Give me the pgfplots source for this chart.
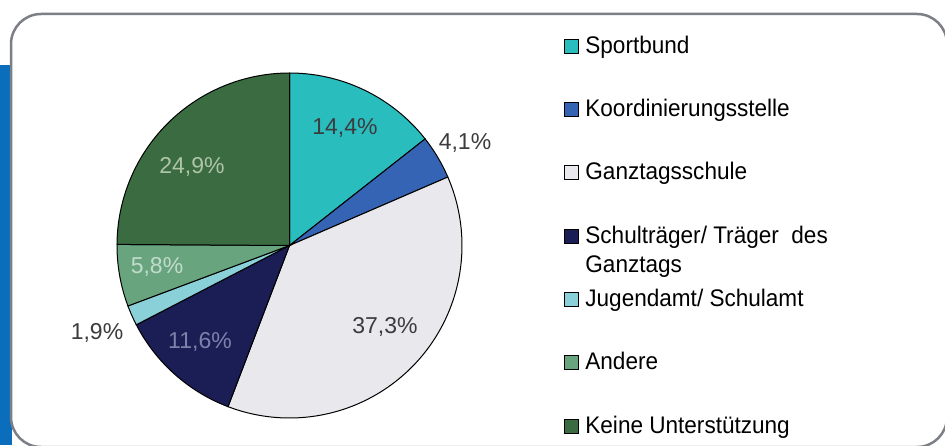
\documentclass[border=0pt]{standalone}
\usepackage{fontspec}
\setmainfont{Liberation Sans}[FakeStretch=0.94]
\newfontfamily\labfont{Liberation Sans}
\usepackage{pgfplots}
\usepackage{pgfplotstable}
\pgfplotsset{compat=1.18}

\definecolor{piecol0}{HTML}{2ABDBE}
\definecolor{piecol1}{HTML}{3564B4}
\definecolor{piecol2}{HTML}{E9E9ED}
\definecolor{piecol3}{HTML}{1B1D55}
\definecolor{piecol4}{HTML}{8AD0D8}
\definecolor{piecol5}{HTML}{68A47E}
\definecolor{piecol6}{HTML}{3A6B41}
\definecolor{framegray}{HTML}{7C7F86}
\definecolor{barblue}{HTML}{0A6EBD}
\definecolor{labdark}{HTML}{3C3C3E}
\definecolor{labgreen}{HTML}{AFC4A8}
\definecolor{labpale}{HTML}{C2DCCB}
\definecolor{labnavy}{HTML}{7C82AA}

\pgfplotstableread{
value
14.4
4.1
37.3
11.6
1.9
5.8
24.9
}\piedata

\begin{document}
\begin{tikzpicture}[x=1pt,y=1pt]
\useasboundingbox (0,0) rectangle (945,445);
\begin{scope}
\clip (0,0) rectangle (945,445);
\fill[white] (0,0) rectangle (945,445);
\fill[barblue] (0,0) rectangle (12,380);
\draw[framegray, line width=2.5pt, fill=white, rounded corners=30pt] (11,-2) rectangle (947,431);
\end{scope}
\begin{axis}[
  x=1pt, y=1pt, xmin=0, xmax=945, ymin=0, ymax=445,
  hide axis, scale only axis, anchor=south west, at={(0,0)}, clip=false,
  legend cell align=left,
  legend style={draw=none, fill=none, at={(axis cs:563.5,409.7)}, anchor=north west,
    inner sep=0pt, outer sep=0pt, row sep=40.3pt, column sep=7pt,
    font=\fontsize{24}{29}\selectfont,
    nodes={inner sep=0pt, text height=18pt, text depth=5pt}},
  legend image code/.code={\draw[#1, line width=0.9pt] (0pt,-6.5pt) rectangle (14pt,7.5pt);},
]
\pgfmathsetmacro\cum{0}
\pgfplotsforeachungrouped \i in {0,...,6}{%
  \pgfplotstablegetelem{\i}{value}\of\piedata
  \pgfmathsetmacro\a{90-3.6*\cum}%
  \pgfmathsetmacro\cum{\cum+\pgfplotsretval}%
  \pgfmathsetmacro\b{90-3.6*\cum}%
  \edef\temp{\noexpand\addplot[draw=black, line width=1pt, fill=piecol\i, domain=\b:\a, samples=90]
    ({289.5+172.5*cos(x)},{199.5+172.5*sin(x)}) -- (axis cs:289.5,199.5) -- cycle;}%
  \temp
}
\legend{Sportbund, Koordinierungsstelle, Ganztagsschule,
  {\begin{tabular}[t]{@{}l@{}}Schulträger/ Träger\ \ des\\Ganztags\end{tabular}},
  Jugendamt/ Schulamt, Andere, Keine Unterstützung}
\begin{scope}[font=\labfont\fontsize{23}{28}\selectfont]
\node[text=labdark] at (axis cs:345,317) {14,4\%};
\node[text=labdark] at (axis cs:465,302) {4,1\%};
\node[text=labgreen] at (axis cs:192,278) {24,9\%};
\node[text=labpale] at (axis cs:157,178) {5,8\%};
\node[text=labdark] at (axis cs:97,112) {1,9\%};
\node[text=labnavy] at (axis cs:200,103) {11,6\%};
\node[text=labdark] at (axis cs:385,118) {37,3\%};
\end{scope}
\end{axis}
\end{tikzpicture}
\end{document}
